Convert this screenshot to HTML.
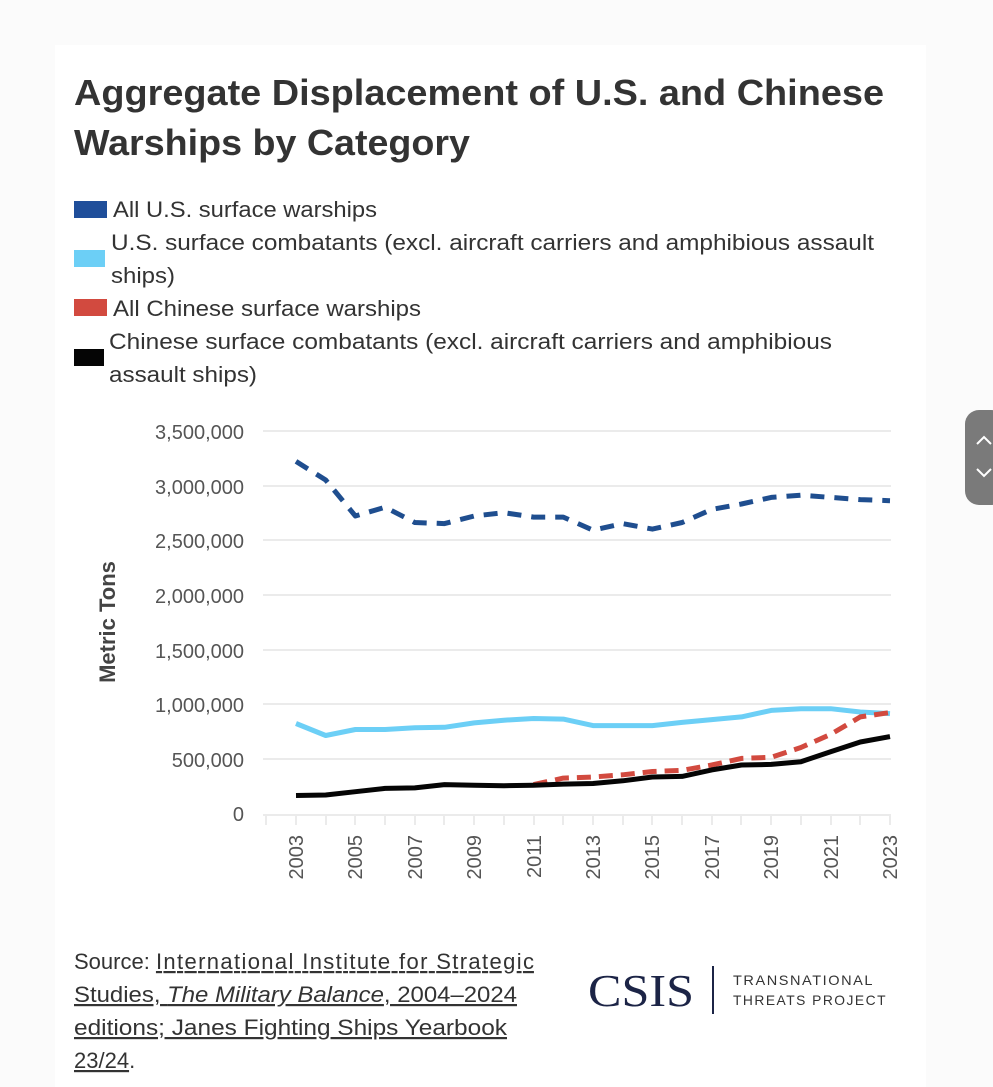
<!DOCTYPE html>
<html><head><meta charset="utf-8"><style>
html,body{margin:0;padding:0;background:#fbfbfb;}
svg{display:block;font-family:"Liberation Sans",sans-serif;}
</style></head><body>
<svg width="993" height="1087" viewBox="0 0 993 1087" xmlns="http://www.w3.org/2000/svg">
<rect x="0" y="0" width="993" height="1087" fill="#fbfbfb"/>
<rect x="55" y="45" width="871" height="1042" fill="#ffffff"/>
<rect x="965" y="410" width="40" height="95" rx="14" fill="#7a7a7a"/>
<path d="M977 444 l7 -7 l7 7 M977 469 l7 7 l7 -7" stroke="#fff" stroke-width="2" fill="none"/>
<g fill="#333" font-weight="bold" font-size="36">
<text x="74" y="105" textLength="810" lengthAdjust="spacingAndGlyphs">Aggregate Displacement of U.S. and Chinese</text>
<text x="74" y="155" textLength="396" lengthAdjust="spacingAndGlyphs">Warships by Category</text>
</g>
<g font-size="22" fill="#333">
<rect x="74" y="201" width="33" height="17" fill="#1f4e9a"/>
<text x="113" y="217" textLength="264" lengthAdjust="spacingAndGlyphs">All U.S. surface warships</text>
<rect x="74" y="250" width="31" height="17" fill="#6ccff6"/>
<text x="111" y="250" textLength="763" lengthAdjust="spacingAndGlyphs">U.S. surface combatants (excl. aircraft carriers and amphibious assault</text>
<text x="111" y="283" textLength="64" lengthAdjust="spacingAndGlyphs">ships)</text>
<rect x="74" y="299" width="33" height="17" fill="#d24a3f"/>
<text x="113" y="316" textLength="308" lengthAdjust="spacingAndGlyphs">All Chinese surface warships</text>
<rect x="74" y="349" width="30" height="17" fill="#050505"/>
<text x="109" y="349" textLength="723" lengthAdjust="spacingAndGlyphs">Chinese surface combatants (excl. aircraft carriers and amphibious</text>
<text x="109" y="382" textLength="148" lengthAdjust="spacingAndGlyphs">assault ships)</text>
</g>
<g stroke="#ebebeb" stroke-width="2">
<line x1="263" x2="891" y1="431" y2="431"/><line x1="263" x2="891" y1="486" y2="486"/>
<line x1="263" x2="891" y1="540" y2="540"/><line x1="263" x2="891" y1="595" y2="595"/>
<line x1="263" x2="891" y1="650" y2="650"/><line x1="263" x2="891" y1="704" y2="704"/>
<line x1="263" x2="891" y1="759" y2="759"/><line x1="263" x2="891" y1="815" y2="815"/>
<path d="M266 815v10M296 815v10M326 815v10M355 815v10M385 815v10M415 815v10M444 815v10M474 815v10M504 815v10M534 815v10M563 815v10M593 815v10M623 815v10M652 815v10M682 815v10M712 815v10M741 815v10M771 815v10M801 815v10M831 815v10M860 815v10M890 815v10"/>
</g>
<g font-size="20" fill="#555" text-anchor="end">
<text x="244" y="439">3,500,000</text><text x="244" y="494">3,000,000</text>
<text x="244" y="548">2,500,000</text><text x="244" y="603">2,000,000</text>
<text x="244" y="658">1,500,000</text><text x="244" y="712">1,000,000</text>
<text x="244" y="767">500,000</text><text x="244" y="821">0</text>
</g>
<text transform="translate(115 622) rotate(-90)" font-size="22" font-weight="bold" fill="#444" text-anchor="middle">Metric Tons</text>
<g font-size="20" fill="#555" text-anchor="end">
<text transform="translate(303 835) rotate(-90)">2003</text>
<text transform="translate(362 835) rotate(-90)">2005</text>
<text transform="translate(422 835) rotate(-90)">2007</text>
<text transform="translate(481 835) rotate(-90)">2009</text>
<text transform="translate(541 835) rotate(-90)">2011</text>
<text transform="translate(600 835) rotate(-90)">2013</text>
<text transform="translate(659 835) rotate(-90)">2015</text>
<text transform="translate(719 835) rotate(-90)">2017</text>
<text transform="translate(778 835) rotate(-90)">2019</text>
<text transform="translate(838 835) rotate(-90)">2021</text>
<text transform="translate(897 835) rotate(-90)">2023</text>
</g>
<g fill="none" stroke-width="5" stroke-linejoin="round">
<polyline stroke="#6ccff6" points="296,723.5 325.7,735.5 355.4,729.5 385.1,729.5 414.8,727.8 444.5,727.3 474.2,722.9 503.9,720.2 533.6,718.5 563.3,719.1 593,725.6 622.7,725.6 652.4,725.6 682.1,722.4 711.8,719.6 741.5,716.9 771.2,710.4 800.9,708.7 830.6,708.7 860.3,712 890,713.6"/>
<polyline stroke="#d24a3f" stroke-dasharray="14,8" points="533.6,784.6 563.3,778.1 593,777 622.7,774.8 652.4,771.5 682.1,770.4 711.8,765 741.5,758.4 771.2,757.3 800.9,747.5 830.6,734.4 860.3,716.9 890,712.5"/>
<polyline stroke="#050505" points="296,795.5 325.7,795 355.4,791.7 385.1,788.4 414.8,787.9 444.5,784.6 474.2,785.2 503.9,785.7 533.6,785.2 563.3,784.1 593,783.5 622.7,780.8 652.4,777 682.1,776.4 711.8,769.9 741.5,765 771.2,764.4 800.9,761.7 830.6,751.8 860.3,742 890,736.6"/>
<polyline stroke="#1f4e8f" stroke-dasharray="14,10" points="296,461.4 325.7,480 355.4,516 385.1,507.2 414.8,522.5 444.5,523.6 474.2,516 503.9,512.7 533.6,517.1 563.3,517.1 593,530.2 622.7,523.6 652.4,529.1 682.1,522.5 711.8,509.4 741.5,504 771.2,497.4 800.9,495.2 830.6,497.4 860.3,499.6 890,500.7"/>
</g>
<g font-size="22" fill="#333">
<text x="74" y="969">Source: <tspan text-decoration="underline" textLength="378">International Institute for Strategic</tspan></text>
<text x="74" y="1002" text-decoration="underline" textLength="443" lengthAdjust="spacingAndGlyphs">Studies, <tspan font-style="italic">The Military Balance</tspan>, 2004–2024</text>
<text x="74" y="1035" text-decoration="underline" textLength="433" lengthAdjust="spacingAndGlyphs">editions; Janes Fighting Ships Yearbook</text>
<text x="74" y="1068"><tspan text-decoration="underline">23/24</tspan>.</text>
</g>
<text x="588" y="1006" font-family="Liberation Serif,serif" font-size="46" fill="#1c2446" textLength="106" lengthAdjust="spacingAndGlyphs">CSIS</text>
<line x1="713" y1="966" x2="713" y2="1014" stroke="#1c2446" stroke-width="2"/>
<g font-size="14" fill="#333" letter-spacing="1.5">
<text x="733" y="985" textLength="141" lengthAdjust="spacingAndGlyphs">TRANSNATIONAL</text>
<text x="733" y="1005" textLength="154" lengthAdjust="spacingAndGlyphs">THREATS PROJECT</text>
</g>
</svg>
</body></html>
